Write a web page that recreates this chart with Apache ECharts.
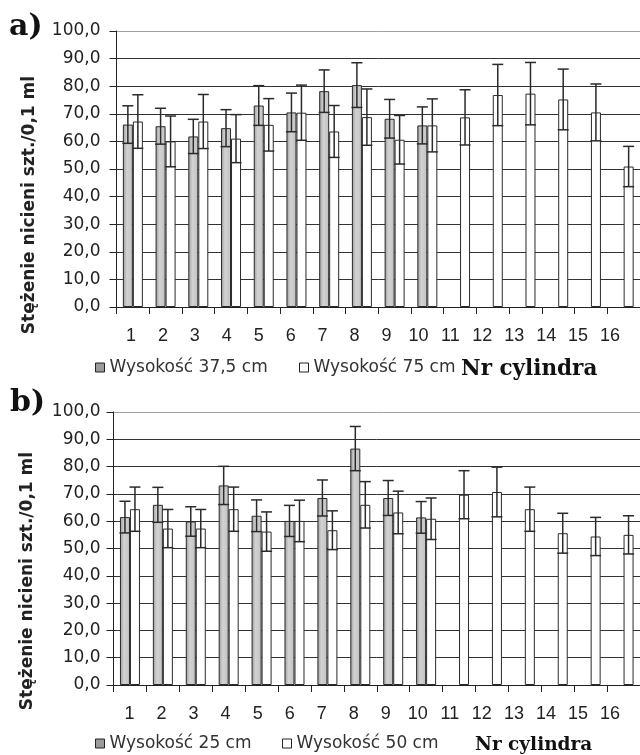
<!DOCTYPE html>
<html>
<head>
<meta charset="utf-8">
<script src="https://cdn.jsdelivr.net/npm/echarts@6/dist/echarts.min.js"></script>
<style>
html, body { margin: 0; padding: 0; background: #fff; }
#chart { width: 640px; height: 755px; }
</style>
</head>
<body>
<div id="chart"></div>
<script>
var cats = ['1', '2', '3', '4', '5', '6', '7', '8', '9', '10', '11', '12', '13', '14', '15', '16'];
var yTicks = ['0,0', '10,0', '20,0', '30,0', '40,0', '50,0', '60,0', '70,0', '80,0', '90,0', '100,0'];

// a) Wysokość 37,5 cm / 75 cm
var meanA1 = [66.1, 65.5, 61.8, 64.8, 73.0, 70.5, 78.2, 80.4, 68.2, 65.8, null, null, null, null, null, null];
var sdA1 = [6.8, 6.5, 6.2, 6.7, 7.2, 7.0, 7.7, 8.1, 7.0, 6.7, null, null, null, null, null, null];
var meanA2 = [67.2, 60.0, 67.2, 61.0, 66.0, 70.4, 63.6, 68.8, 60.6, 65.8, 68.7, 76.8, 77.3, 75.2, 70.5, 50.9];
var sdA2 = [9.7, 9.2, 9.8, 8.7, 9.5, 10.0, 9.4, 10.2, 8.8, 9.6, 10.0, 11.1, 11.3, 11.0, 10.3, 7.3];

// b) Wysokość 25 cm / 50 cm
var meanB1 = [61.5, 66.0, 59.9, 73.1, 62.0, 60.1, 68.5, 86.6, 68.5, 61.4, null, null, null, null, null, null];
var sdB1 = [5.8, 6.4, 5.4, 7.0, 5.8, 5.7, 6.6, 8.1, 6.4, 5.8, null, null, null, null, null, null];
var meanB2 = [64.4, 57.3, 57.3, 64.4, 56.2, 60.1, 56.7, 66.0, 63.2, 60.9, 69.7, 70.7, 64.4, 55.6, 54.4, 55.0];
var sdB2 = [8.1, 7.0, 7.0, 8.1, 7.2, 7.6, 7.1, 8.5, 7.8, 7.6, 8.8, 9.1, 8.1, 7.3, 7.0, 7.0];

var namesA = ['Wysokość 37,5 cm', 'Wysokość 75 cm'];
var namesB = ['Wysokość 25 cm', 'Wysokość 50 cm'];

var BAR_W = 10;
var grayFill = new echarts.graphic.LinearGradient(0, 0, 1, 0, [
    {offset: 0, color: '#9a9a9a'},
    {offset: 0.4, color: '#d2d2d2'},
    {offset: 1, color: '#c2c2c2'}
]);

function errData(mean, sd) {
    var out = [];
    mean.forEach(function (m, i) {
        if (m != null) out.push([i, m, m + sd[i], m - sd[i]]);
    });
    return out;
}

function errRender(shift) {
    return function (params, api) {
        var top = api.coord([api.value(0), api.value(2)]);
        var bot = api.coord([api.value(0), api.value(3)]);
        var x = top[0] + shift, c = 5.5;
        var st = {stroke: '#2a2a2a', lineWidth: 1.5};
        return {
            type: 'group',
            children: [
                {type: 'line', shape: {x1: x, y1: top[1], x2: x, y2: bot[1]}, style: st},
                {type: 'line', shape: {x1: x - c, y1: top[1], x2: x + c, y2: top[1]}, style: st},
                {type: 'line', shape: {x1: x - c, y1: bot[1], x2: x + c, y2: bot[1]}, style: st}
            ]
        };
    };
}

function mainX(grid) {
    return {
        type: 'category', gridIndex: grid, data: cats,
        axisLine: {lineStyle: {color: '#222', width: 1}},
        axisTick: {show: true, length: 7, lineStyle: {color: '#222'}},
        axisLabel: {show: false}
    };
}
function labelX(grid) {
    return {
        type: 'category', gridIndex: grid, data: cats,
        axisLine: {show: false}, axisTick: {show: false},
        axisLabel: {margin: 20, color: '#222', fontFamily: 'Liberation Sans', fontSize: 18}
    };
}
var gridColors = ['#333', '#333', '#333', '#333', '#333', '#333', '#333', '#333', '#333', '#333', '#a0a0a0'];
function mainY(grid, margin) {
    return {
        type: 'value', gridIndex: grid, min: 0, max: 100, interval: 10,
        axisLine: {show: true, lineStyle: {color: '#222', width: 1}},
        axisTick: {show: true, length: 7, lineStyle: {color: '#222'}},
        axisLabel: {
            margin: margin, color: '#222', fontFamily: 'DejaVu Sans', fontSize: 17,
            formatter: function (v) { return yTicks[Math.round(v / 10)]; }
        },
        splitLine: {show: true, lineStyle: {color: gridColors, width: 1}}
    };
}
function hiddenY(grid) {
    return {type: 'value', gridIndex: grid, show: false, min: 0, max: 100};
}

function barSeries(name, data, axis, fill) {
    return {
        name: name, type: 'bar', xAxisIndex: axis, yAxisIndex: axis,
        barWidth: BAR_W, barGap: '0%', data: data,
        itemStyle: {color: fill, borderColor: '#2a2a2a', borderWidth: 1}
    };
}
function errSeries(name, mean, sd, axis, shift) {
    return {
        name: name, type: 'custom', xAxisIndex: axis, yAxisIndex: axis,
        renderItem: errRender(shift), data: errData(mean, sd),
        encode: {x: 0, y: [1, 2, 3]}, z: 5, silent: true
    };
}

var legendText = {color: '#333', fontFamily: 'DejaVu Sans', fontSize: 17};
function legendItem(name, fill, left, top) {
    return {
        data: [{name: name, itemStyle: {color: fill, borderColor: '#222', borderWidth: 1}}],
        left: left, top: top, padding: 0, icon: 'rect',
        itemWidth: 9, itemHeight: 9, textStyle: legendText
    };
}

var chart = echarts.init(document.getElementById('chart'));
var option = {
    backgroundColor: '#fff',
    animation: false,
    grid: [
        {left: 116.5, top: 31, width: 526, height: 276},
        {left: 113.5, top: 412, width: 531, height: 273},
        {left: 115, top: 31, width: 511, height: 276},
        {left: 113.5, top: 412, width: 512.5, height: 273}
    ],
    xAxis: [mainX(0), mainX(1), labelX(2), labelX(3)],
    yAxis: [mainY(0, 16), mainY(1, 13), hiddenY(2), hiddenY(3)],
    legend: [
        legendItem(namesA[0], '#9a9a9a', 95, 359),
        legendItem(namesA[1], '#fff', 299, 359),
        legendItem(namesB[0], '#9a9a9a', 95, 735),
        legendItem(namesB[1], '#fff', 282, 735)
    ],
    graphic: [
        {type: 'text', x: 9, y: 27, style: {text: 'a)', fontFamily: 'DejaVu Serif', fontWeight: 'bold', fontSize: 30, fill: '#111', verticalAlign: 'middle'}},
        {type: 'text', x: 10, y: 403, style: {text: 'b)', fontFamily: 'DejaVu Serif', fontWeight: 'bold', fontSize: 30, fill: '#111', verticalAlign: 'middle'}},
        {type: 'text', x: 30, y: 205, rotation: Math.PI / 2, style: {text: 'Stężenie nicieni szt./0,1 ml', fontFamily: 'DejaVu Sans', fontWeight: 'bold', fontSize: 17, fill: '#222', align: 'center', verticalAlign: 'middle'}},
        {type: 'text', x: 28, y: 581, rotation: Math.PI / 2, style: {text: 'Stężenie nicieni szt./0,1 ml', fontFamily: 'DejaVu Sans', fontWeight: 'bold', fontSize: 17, fill: '#222', align: 'center', verticalAlign: 'middle'}},
        {type: 'text', x: 461, y: 369, style: {text: 'Nr cylindra', fontFamily: 'DejaVu Serif', fontWeight: 'bold', fontSize: 21.5, fill: '#111', verticalAlign: 'middle'}},
        {type: 'text', x: 475, y: 745, style: {text: 'Nr cylindra', fontFamily: 'DejaVu Serif', fontWeight: 'bold', fontSize: 18.5, fill: '#111', verticalAlign: 'middle'}}
    ],
    series: [
        barSeries(namesA[0], meanA1, 0, grayFill),
        barSeries(namesA[1], meanA2, 0, '#fff'),
        errSeries(namesA[0], meanA1, sdA1, 0, -BAR_W / 2),
        errSeries(namesA[1], meanA2, sdA2, 0, BAR_W / 2),
        barSeries(namesB[0], meanB1, 1, grayFill),
        barSeries(namesB[1], meanB2, 1, '#fff'),
        errSeries(namesB[0], meanB1, sdB1, 1, -BAR_W / 2),
        errSeries(namesB[1], meanB2, sdB2, 1, BAR_W / 2)
    ]
};
chart.setOption(option);
</script>
</body>
</html>
